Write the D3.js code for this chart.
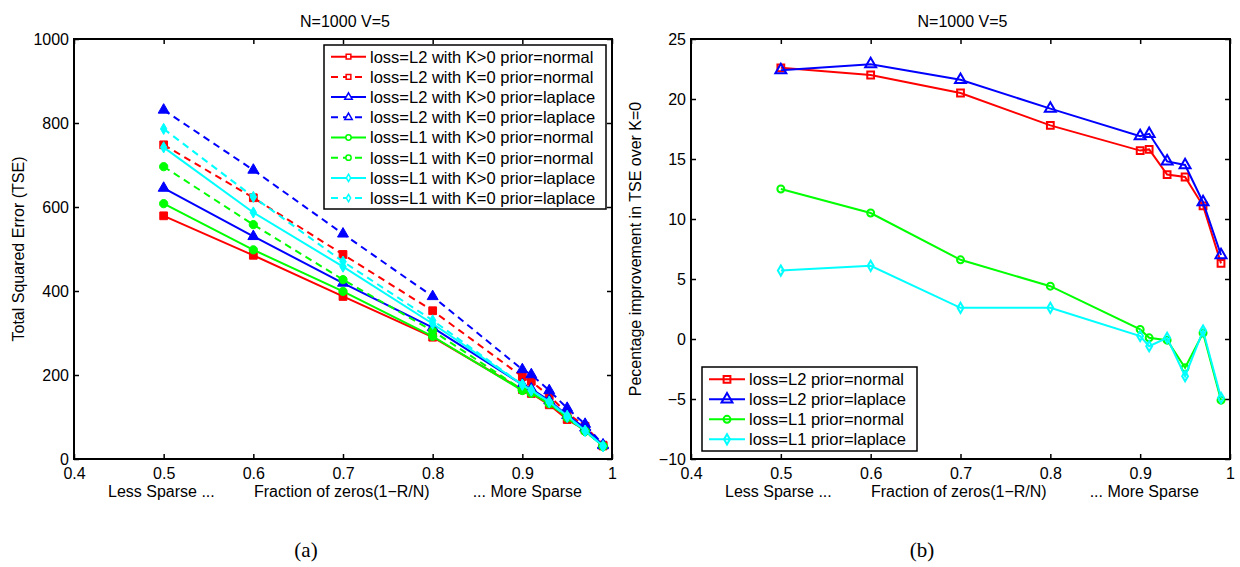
<!DOCTYPE html>
<html>
<head>
<meta charset="utf-8">
<script src="https://cdn.jsdelivr.net/npm/d3@7"></script>
<style>
body { margin: 0; background: #fff; }
text { font-family: 'Liberation Sans', Arial, sans-serif; fill: #000; }
</style>
</head>
<body>
<svg width="1240" height="567"></svg>
<script>
// x positions shared by every series
const fractions = [0.5, 0.6, 0.7, 0.8, 0.9, 0.91, 0.93, 0.95, 0.97, 0.99];
const xTickValues = [0.4, 0.5, 0.6, 0.7, 0.8, 0.9, 1];
const xTickLabels = ['0.4', '0.5', '0.6', '0.7', '0.8', '0.9', '1'];

// panel (a): total squared error
const tseTicks = [0, 200, 400, 600, 800, 1000];
const tseL2NormalK = [579, 485, 387, 290, 165, 156, 129, 94, 69, 31];
const tseL2NormalK0 = [748, 622, 487, 353, 196, 185, 150, 109, 78, 33];
const tseL2LaplaceK = [645, 530, 419, 313, 177, 167, 139, 104, 74, 32];
const tseL2LaplaceK0 = [831, 688, 536, 387, 213, 201, 163, 121, 83, 34];
const tseL1NormalK = [608, 498, 399, 292, 163, 157, 132, 100, 66, 31];
const tseL1NormalK0 = [696, 558, 427, 305, 165, 157, 132, 98, 66, 30];
const tseL1LaplaceK = [742, 587, 458, 322, 177, 164, 136, 103, 67, 31];
const tseL1LaplaceK0 = [786, 624, 470, 330, 177, 163, 136, 100, 67, 30];
const tseNames = [
	'loss=L2 with K>0 prior=normal',
	'loss=L2 with K=0 prior=normal',
	'loss=L2 with K>0 prior=laplace',
	'loss=L2 with K=0 prior=laplace',
	'loss=L1 with K>0 prior=normal',
	'loss=L1 with K=0 prior=normal',
	'loss=L1 with K>0 prior=laplace',
	'loss=L1 with K=0 prior=laplace',
];

// panel (b): percentage improvement
const pctTicks = [-10, -5, 0, 5, 10, 15, 20, 25];
const pctL2Normal = [22.6, 22.0, 20.5, 17.8, 15.7, 15.8, 13.7, 13.5, 11.1, 6.3];
const pctL2Laplace = [22.4, 22.9, 21.6, 19.2, 16.9, 17.1, 14.8, 14.5, 11.4, 7.0];
const pctL1Normal = [12.5, 10.5, 6.6, 4.4, 0.8, 0.1, -0.1, -2.4, 0.5, -5.1];
const pctL1Laplace = [5.7, 6.1, 2.6, 2.6, 0.25, -0.6, 0.1, -3.1, 0.7, -4.9];
const pctNames = ['loss=L2 prior=normal', 'loss=L2 prior=laplace', 'loss=L1 prior=normal', 'loss=L1 prior=laplace'];

const svg = d3.select('svg');

const red = '#ff0000', blue = '#0000ff', green = '#00ff00', cyan = '#00ffff';

const markerPath = (type, size) => d3.symbol().type(type).size(size)();

const tseSeries = [
	{ values: tseL2NormalK, color: red, sym: d3.symbolSquare, dashed: false },
	{ values: tseL2NormalK0, color: red, sym: d3.symbolSquare, dashed: true },
	{ values: tseL2LaplaceK, color: blue, sym: d3.symbolTriangle, dashed: false },
	{ values: tseL2LaplaceK0, color: blue, sym: d3.symbolTriangle, dashed: true },
	{ values: tseL1NormalK, color: green, sym: d3.symbolCircle, dashed: false },
	{ values: tseL1NormalK0, color: green, sym: d3.symbolCircle, dashed: true },
	{ values: tseL1LaplaceK, color: cyan, sym: d3.symbolDiamond, dashed: false },
	{ values: tseL1LaplaceK0, color: cyan, sym: d3.symbolDiamond, dashed: true },
].map((s, i) => ({ ...s, name: tseNames[i] }));

const pctSeries = [
	{ values: pctL2Normal, color: red, sym: d3.symbolSquare },
	{ values: pctL2Laplace, color: blue, sym: d3.symbolTriangle },
	{ values: pctL1Normal, color: green, sym: d3.symbolCircle },
	{ values: pctL1Laplace, color: cyan, sym: d3.symbolDiamond },
].map((s, i) => ({ ...s, name: pctNames[i], dashed: false }));

// plot marker sizes (area) per symbol
const bigSize = new Map([[d3.symbolSquare, 60], [d3.symbolTriangle, 52], [d3.symbolCircle, 54], [d3.symbolDiamond, 36]]);
const openSize = new Map([[d3.symbolSquare, 46], [d3.symbolTriangle, 52], [d3.symbolCircle, 38], [d3.symbolDiamond, 30]]);
const smallSize = new Map([[d3.symbolSquare, 22], [d3.symbolTriangle, 24], [d3.symbolCircle, 22], [d3.symbolDiamond, 16]]);

const drawPanel = cfg => {
	const { left, right, top, bottom, yDomain, yTicks, series, filled, yLabel, caption, captionX } = cfg;
	const xScale = d3.scaleLinear().domain([0.4, 1]).range([left, right]);
	const yScale = d3.scaleLinear().domain(yDomain).range([bottom, top]);
	const g = svg.append('g');

	const styleAxis = sel => {
		sel.select('.domain').remove();
		sel.selectAll('.tick line').attr('stroke', '#000').attr('stroke-width', 1.5);
		sel.selectAll('text').attr('font-size', 16);
		sel.attr('font-family', null).attr('font-size', null);
	};

	g.append('g')
		.attr('transform', `translate(0,${bottom})`)
		.call(d3.axisBottom(xScale).tickValues(xTickValues).tickFormat((d, i) => xTickLabels[i]).tickSizeInner(-5).tickSizeOuter(0).tickPadding(8.5))
		.call(styleAxis);
	g.append('g')
		.attr('transform', `translate(0,${top})`)
		.call(d3.axisTop(xScale).tickValues(xTickValues).tickFormat('').tickSizeInner(-5).tickSizeOuter(0))
		.call(styleAxis);
	g.append('g')
		.attr('transform', `translate(${left},0)`)
		.call(d3.axisLeft(yScale).tickValues(yTicks).tickFormat(d3.format('d')).tickSizeInner(-5).tickSizeOuter(0).tickPadding(5))
		.call(styleAxis);
	g.append('g')
		.attr('transform', `translate(${right},0)`)
		.call(d3.axisRight(yScale).tickValues(yTicks).tickFormat('').tickSizeInner(-5).tickSizeOuter(0))
		.call(styleAxis);

	const lineGen = d3.line().x(d => xScale(d[0])).y(d => yScale(d[1]));

	series.forEach(s => {
		const pts = fractions.map((f, i) => [f, s.values[i]]);
		g.append('path')
			.attr('d', lineGen(pts))
			.attr('fill', 'none')
			.attr('stroke', s.color)
			.attr('stroke-width', 2)
			.attr('stroke-dasharray', s.dashed ? '7,5' : null);
		g.selectAll(null)
			.data(pts)
			.enter()
			.append('path')
			.attr('transform', d => `translate(${xScale(d[0])},${yScale(d[1])})`)
			.attr('d', markerPath(s.sym, filled ? bigSize.get(s.sym) : openSize.get(s.sym)))
			.attr('fill', filled ? s.color : 'none')
			.attr('stroke', s.color)
			.attr('stroke-width', filled ? 1 : 2);
	});

	g.append('rect')
		.attr('x', left)
		.attr('y', top)
		.attr('width', right - left)
		.attr('height', bottom - top)
		.attr('fill', 'none')
		.attr('stroke', '#000')
		.attr('stroke-width', 2);

	g.append('text')
		.attr('x', (left + right) / 2 + 2)
		.attr('y', 27)
		.attr('text-anchor', 'middle')
		.attr('font-size', 16)
		.text('N=1000 V=5');

	g.append('text').attr('x', left + 34).attr('y', 497).attr('font-size', 16).text('Less Sparse ...');
	g.append('text').attr('x', left + 180).attr('y', 497).attr('font-size', 16).text('Fraction of zeros(1\u2212R/N)');
	g.append('text').attr('x', left + 508).attr('y', 497).attr('text-anchor', 'end').attr('font-size', 16).text('... More Sparse');

	g.append('text')
		.attr('transform', `translate(${left - 50},${(top + bottom) / 2}) rotate(-90)`)
		.attr('text-anchor', 'middle')
		.attr('font-size', 16)
		.text(yLabel);

	g.append('text')
		.attr('x', captionX)
		.attr('y', 557)
		.attr('text-anchor', 'middle')
		.attr('font-size', 21)
		.style('font-family', "'Liberation Serif', 'DejaVu Serif', serif")
		.text(caption);
};

const drawLegend = cfg => {
	const { x, y, w, h, rowY, rowH, series, lineX0, lineX1, textX, filled } = cfg;
	const lg = svg.append('g');
	lg.append('rect').attr('x', x).attr('y', y).attr('width', w).attr('height', h).attr('fill', '#fff').attr('stroke', '#000').attr('stroke-width', 1.5);
	series.forEach((s, i) => {
		const cy = rowY + i * rowH;
		lg.append('line')
			.attr('x1', lineX0)
			.attr('x2', lineX1)
			.attr('y1', cy)
			.attr('y2', cy)
			.attr('stroke', s.color)
			.attr('stroke-width', 2)
			.attr('stroke-dasharray', s.dashed ? '7,5' : null);
		lg.append('path')
			.attr('transform', `translate(${(lineX0 + lineX1) / 2},${cy})`)
			.attr('d', markerPath(s.sym, filled ? openSize.get(s.sym) : smallSize.get(s.sym)))
			.attr('fill', filled ? 'none' : '#fff')
			.attr('stroke', s.color)
			.attr('stroke-width', filled ? 2 : 1.5);
		lg.append('text')
			.attr('x', textX)
			.attr('y', cy)
			.attr('dy', '0.36em')
			.attr('font-size', 16.5)
			.text(s.name);
	});
};

drawPanel({
	left: 74, right: 612, top: 39, bottom: 459,
	yDomain: [0, 1000], yTicks: tseTicks,
	series: tseSeries, filled: true,
	yLabel: 'Total Squared Error (TSE)',
	caption: '(a)', captionX: 306,
});

drawPanel({
	left: 691, right: 1230, top: 39, bottom: 459,
	yDomain: [-10, 25], yTicks: pctTicks,
	series: pctSeries, filled: false,
	yLabel: 'Pecentage improvement in TSE over K=0',
	caption: '(b)', captionX: 922,
});

drawLegend({
	x: 324, y: 45, w: 282, h: 164, rowY: 56.7, rowH: 20.2,
	series: tseSeries, lineX0: 331, lineX1: 366, textX: 370, filled: false,
});

drawLegend({
	x: 702, y: 367, w: 215, h: 84, rowY: 379.3, rowH: 20,
	series: pctSeries, lineX0: 709, lineX1: 745, textX: 749, filled: true,
});
</script>
</body>
</html>
